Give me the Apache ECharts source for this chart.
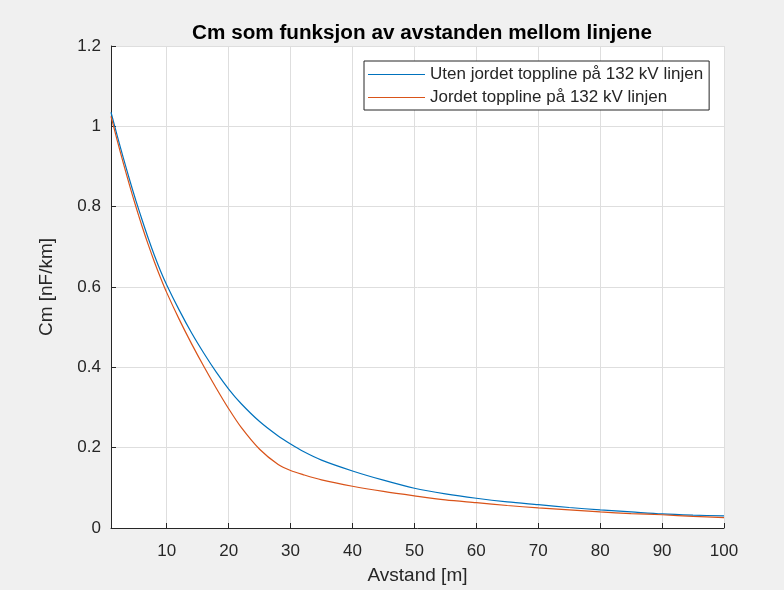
<!DOCTYPE html>
<html>
<head>
<meta charset="utf-8">
<title>Cm</title>
<script src="https://cdn.jsdelivr.net/npm/echarts@6/dist/echarts.min.js"></script>
<style>
  html, body { margin: 0; padding: 0; background: #f0f0f0; }
  #chart { width: 784px; height: 590px; }
</style>
</head>
<body>
<div id="chart"></div>
<script>
// avstand [m]
var xs = [1, 2, 3, 4, 5, 6, 7, 8, 9, 10, 12, 14, 16, 18, 20, 22, 25, 28, 30, 32, 35, 40, 45, 50, 55, 60, 65, 70, 75, 80, 85, 90, 95, 100];
// Cm [nF/km]
var utenJordet = [1.035, 0.977, 0.921, 0.867, 0.816, 0.768, 0.722, 0.679, 0.640, 0.605, 0.543, 0.486, 0.435, 0.388, 0.346, 0.310, 0.265, 0.229, 0.209, 0.191, 0.169, 0.142, 0.119, 0.099, 0.085, 0.074, 0.065, 0.058, 0.051, 0.045, 0.040, 0.035, 0.032, 0.030];
var jordet = [1.025, 0.965, 0.908, 0.853, 0.801, 0.752, 0.706, 0.663, 0.623, 0.586, 0.520, 0.459, 0.402, 0.348, 0.297, 0.251, 0.196, 0.158, 0.143, 0.133, 0.120, 0.104, 0.091, 0.080, 0.070, 0.063, 0.056, 0.050, 0.045, 0.040, 0.036, 0.033, 0.029, 0.026];
var xTicks = [10, 20, 30, 40, 50, 60, 70, 80, 90, 100];
var seriesNames = ['Uten jordet toppline på 132 kV linjen', 'Jordet toppline på 132 kV linjen'];

function pairs(ys) {
    return xs.map(function (x, i) { return [x, ys[i]]; });
}

var font = 'Liberation Sans, Arial, Helvetica, sans-serif';
var txt = '#262626';

var myChart = echarts.init(document.getElementById('chart'));
var option = {
    backgroundColor: '#f0f0f0',
    animation: false,
    title: {
        text: 'Cm som funksjon av avstanden mellom linjene',
        left: 417,
        textAlign: 'center',
        top: 18,
        textStyle: { fontFamily: font, fontSize: 20.7, fontWeight: 'bold', color: '#000' }
    },
    legend: {
        data: seriesNames,
        orient: 'vertical',
        left: 364,
        top: 61,
        align: 'left',
        icon: 'rect',
        backgroundColor: '#fff',
        borderColor: '#262626',
        borderWidth: 1,
        borderRadius: 0,
        padding: [5, 6, 4, 4],
        itemWidth: 57,
        itemHeight: 1.2,
        itemGap: 6,
        textStyle: { fontFamily: font, fontSize: 17, lineHeight: 17, color: txt }
    },
    grid: {
        left: 111,
        right: 60,
        top: 46,
        bottom: 61,
        containLabel: false,
        backgroundColor: '#fff',
        show: true,
        borderWidth: 0
    },
    xAxis: {
        type: 'value',
        min: 1,
        max: 100,
        name: 'Avstand [m]',
        nameLocation: 'middle',
        nameGap: 38,
        nameTextStyle: { fontFamily: font, fontSize: 19, color: txt },
        axisLine: { lineStyle: { color: txt, width: 1 } },
        axisTick: { inside: true, length: 5, customValues: xTicks, lineStyle: { color: txt } },
        axisLabel: { customValues: xTicks, fontFamily: font, fontSize: 17, color: txt, margin: 15 },
        splitLine: { show: true, lineStyle: { color: '#dedede', width: 1 } }
    },
    yAxis: {
        type: 'value',
        min: 0,
        max: 1.2,
        interval: 0.2,
        name: 'Cm [nF/km]',
        nameLocation: 'middle',
        nameGap: 55,
        nameTextStyle: { fontFamily: font, fontSize: 19, color: txt },
        axisLine: { show: true, lineStyle: { color: txt, width: 1 } },
        axisTick: { show: true, inside: true, length: 5, lineStyle: { color: txt } },
        axisLabel: { fontFamily: font, fontSize: 17, color: txt, margin: 10 },
        splitLine: { show: true, lineStyle: { color: '#dedede', width: 1 } }
    },
    series: [
        {
            name: seriesNames[0],
            type: 'line',
            data: pairs(utenJordet),
            symbol: 'none',
            smooth: 0.3,
            color: '#0072BD',
            lineStyle: { width: 1.2, color: '#0072BD' }
        },
        {
            name: seriesNames[1],
            type: 'line',
            data: pairs(jordet),
            symbol: 'none',
            smooth: 0.3,
            color: '#D95319',
            lineStyle: { width: 1.2, color: '#D95319' }
        }
    ]
};
myChart.setOption(option);
</script>
</body>
</html>
